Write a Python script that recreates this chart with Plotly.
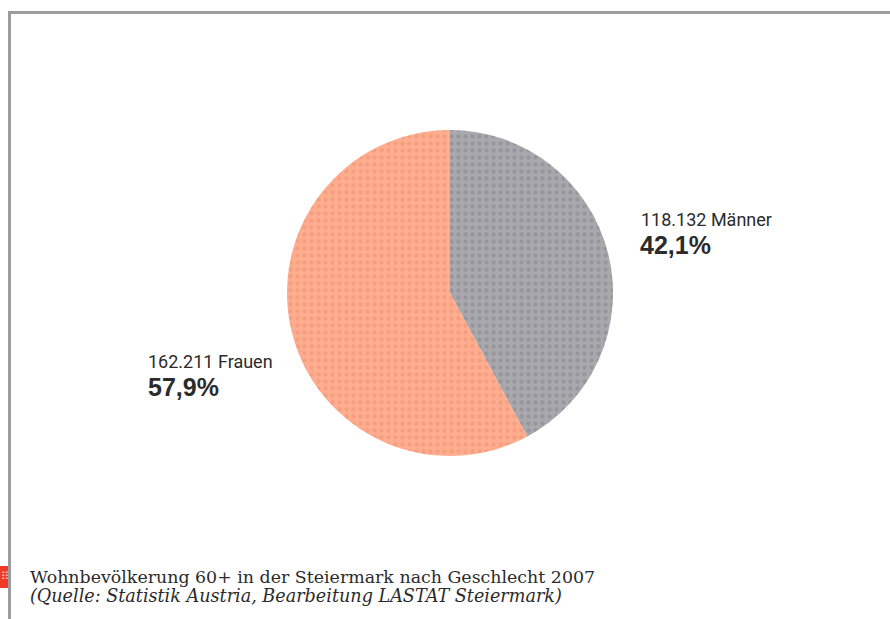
import plotly.graph_objects as go

labels = ["Männer", "Frauen"]
values = [118132, 162211]
colors = ["#a8a8ad", "#ffad8e"]
dots = ["#96969c", "#f4a080"]
value_texts = ["118.132 Männer", "162.211 Frauen"]
shares = ["42,1%", "57,9%"]
title = "Wohnbevölkerung 60+ in der Steiermark nach Geschlecht 2007"
source = "(Quelle: Statistik Austria, Bearbeitung LASTAT Steiermark)"

W, H = 890, 619
fig = go.Figure(go.Pie(
    labels=labels, values=values, sort=False, direction="clockwise", rotation=0,
    textinfo="none", hoverinfo="label+value", showlegend=False,
    marker=dict(colors=colors, line=dict(width=0),
                pattern=dict(shape=".", fgcolor=dots, bgcolor=colors, size=7, solidity=0.3, fillmode="replace")),
    domain=dict(x=[287/W, 613/W], y=[1-456/H, 1-130/H]),
))

def note(x, y, text, size, family, color="#2b2b2b", bold=False, italic=False):
    fig.add_annotation(xref="paper", yref="paper", x=x/W, y=1-y/H, text=text, showarrow=False,
                       xanchor="left", yanchor="middle", xshift=-2,
                       font=dict(size=size, family=family, color=color,
                                 weight="bold" if bold else "normal",
                                 style="italic" if italic else "normal"))

sans = "Roboto"
serif = "DejaVu Serif"
note(641, 219, value_texts[0], 18, sans)
note(640, 245, shares[0], 25, "Liberation Sans", bold=True)
note(148, 361, value_texts[1], 18, sans)
note(148, 387, shares[1], 25, "Liberation Sans", bold=True)
note(30, 577, title, 17.4, serif)
note(30, 596, source, 17.6, serif, italic=True)
note(1, 576, "⠿", 11, "DejaVu Sans", color="#ffd0c0")

fig.update_layout(
    width=W, height=H, margin=dict(l=0, r=0, t=0, b=0),
    paper_bgcolor="white", plot_bgcolor="white",
    shapes=[
        dict(type="line", xref="paper", yref="paper", x0=9.5/W, x1=1, y0=1-12.5/H, y1=1-12.5/H,
             line=dict(color="#9c9ca0", width=3)),
        dict(type="line", xref="paper", yref="paper", x0=9.5/W, x1=9.5/W, y0=1-11/H, y1=0,
             line=dict(color="#9c9ca0", width=3)),
        dict(type="rect", xref="paper", yref="paper", x0=0, x1=8/W, y0=1-588/H, y1=1-566/H,
             fillcolor="#ee3a26", line=dict(width=0), layer="below"),
    ],
)
fig.write_html("out.html", config=dict(displayModeBar=False),
               post_script="document.body.style.margin='0';document.documentElement.style.overflow='hidden';")
